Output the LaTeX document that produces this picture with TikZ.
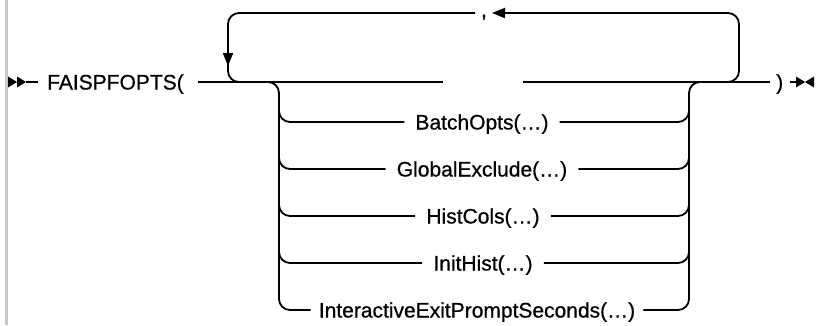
\documentclass[tikz,border=0pt]{standalone}
\usepackage{fontspec}
\setmainfont{Liberation Sans}
\newfontface\railfont{Liberation Sans}[FakeBold=0.7]
\usetikzlibrary{arrows.meta}
\tikzset{
  txt/.style={font=\railfont\fontsize{21}{25}\selectfont, inner ysep=0pt, inner xsep=11pt, anchor=base},
  rail/.style={line width=1.8pt, rounded corners=11pt},
  tipd/.style={-{Triangle[length=13pt,width=10pt]}}
}
\begin{document}
\begin{tikzpicture}[x=1pt,y=-1pt]
\useasboundingbox (0,0) rectangle (819,325);
\fill[black!22] (5,0) rectangle (8,325);
% start symbol
\fill (8,76.5) -- (17,82) -- (8,87.5) -- cycle;
\fill (17,76.5) -- (26,82) -- (17,87.5) -- cycle;
\coordinate (s1) at (26,82);
\coordinate (s2) at (38,82);
\draw[line width=1.8pt] (s1) -- (s2);
\node[txt, inner xsep=0pt, anchor=base west] (m) at (47,89.5) {FAISPFOPTS(};
% main line coordinates
\coordinate (j1) at (198,82);
\coordinate (g1) at (443,82);
\coordinate (g2) at (523,82);
\coordinate (j2) at (770,82);
\draw[line width=1.8pt] (j1) -- (g1);
\draw[line width=1.8pt] (g2) -- (j2);
\node[txt, inner xsep=0pt, anchor=base west] (cp) at (776,89.5) {)};
% end symbol
\coordinate (e1) at (790,82);
\coordinate (e2) at (798,82);
\draw[line width=1.8pt] (e1) -- (e2);
\fill (796,76.5) -- (805,82) -- (796,87.5) -- cycle;
\fill (814,76.5) -- (805,82) -- (814,87.5) -- cycle;
% repeat loop
\coordinate (lr0) at (715,82);
\coordinate (lr1) at (739,82);
\coordinate (lr2) at (739,13);
\coordinate (la) at (492,13);
\coordinate (lb) at (475,13);
\coordinate (ll1) at (228,13);
\coordinate (ll2) at (228,66);
\coordinate (ll3) at (228,60);
\coordinate (ll4) at (228,82);
\coordinate (ll5) at (255,82);
\node[txt, inner xsep=0pt] (comma) at (484,17) {,};
\draw[rail, tipd] (lr0) -- (lr1) -- (lr2) -- (la);
\draw[rail, tipd] (lb) -- (ll1) -- (ll2);
\draw[rail] (ll3) -- (ll4) -- (ll5);
% branch nodes
\node[txt] (b1) at (482,129.5) {BatchOpts(…)};
\node[txt] (b2) at (482,176.5) {GlobalExclude(…)};
\node[txt] (b3) at (483,223.5) {HistCols(…)};
\node[txt] (b4) at (483,270.5) {InitHist(…)};
\node[txt, inner xsep=8pt] (b5) at (477,317.5) {InteractiveExitPromptSeconds(…)};
% left and right rails
\coordinate (bl0) at (258,82);
\coordinate (bl1) at (279,82);
\coordinate (bl5) at (279,310);
\coordinate (br0) at (710,82);
\coordinate (br1) at (689,82);
\coordinate (br5) at (689,310);
\draw[rail] (bl0) -- (bl1) -- (bl5) -- (bl5 -| b5.west);
\draw[rail] (b5.east |- br5) -- (br5) -- (br1) -- (br0);
\foreach \n/\y in {b1/122,b2/169,b3/216,b4/263}{
  \draw[rail] (279,\y-22) -- (279,\y) -- (279,\y -| \n.west);
  \draw[rail] (\n.east |- 689,\y) -- (689,\y) -- (689,\y-22);
}
\end{tikzpicture}
\end{document}
